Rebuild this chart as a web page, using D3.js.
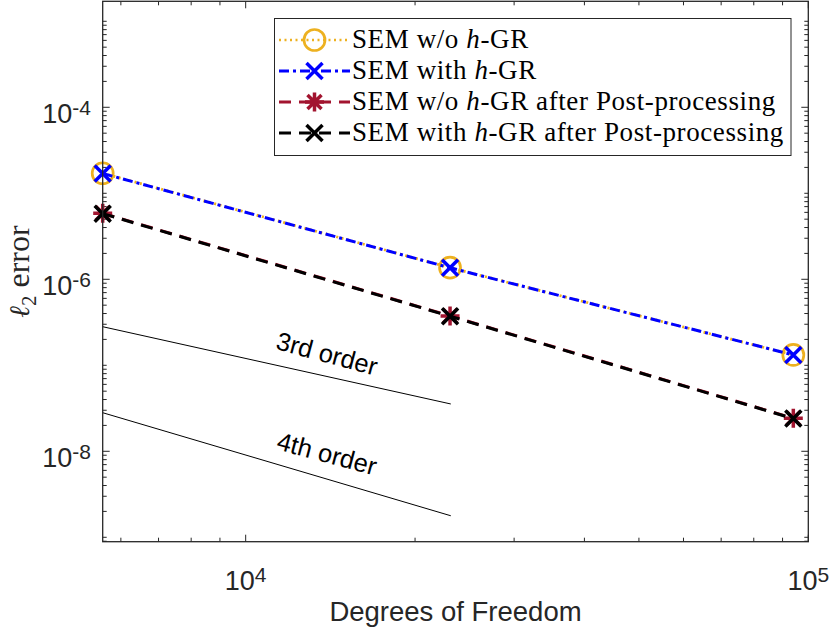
<!DOCTYPE html>
<html><head><meta charset="utf-8">
<script src="https://cdn.jsdelivr.net/npm/d3@7/dist/d3.min.js"></script>
<style>body{margin:0;background:#fff}</style></head>
<body>
<svg id="c" width="830" height="633"></svg>
<script>
// ---- data ----
const dof      = [5570, 23080, 94050];
const semNoGR  = [1.71e-5, 1.365e-6, 1.32e-7];
const semGR    = [1.70e-5, 1.36e-6, 1.32e-7];
const postNoGR = [5.85e-6, 3.75e-7, 2.42e-8];
const postGR   = [5.80e-6, 3.72e-7, 2.40e-8];
const refX     = [5570, 23150];
const ref3     = [2.81e-7, 3.55e-8];
const ref4     = [2.81e-8, 1.78e-9];
const refLabels = ["3rd order", "4th order"];
const xTicks = [1e4, 1e5];
const xTickExp = ["4", "5"];
const yTicks = [1e-8, 1e-6, 1e-4];
const yTickExp = ["-8", "-6", "-4"];
const legendLabels = [
  ["SEM w/o ", "h", "-GR"],
  ["SEM with ", "h", "-GR"],
  ["SEM w/o ", "h", "-GR after Post-processing"],
  ["SEM with ", "h", "-GR after Post-processing"]
];

const svg = d3.select("#c");
const L = 102.7, R = 808.3, T = 1.3, B = 541.7;
const x = d3.scaleLog().domain([5570, 1e5]).range([L, R]);
const y = d3.scaleLog().domain([8.887e-10, 1.708e-3]).range([B, T]);
const axisCol = "#262626";
const ORANGE = "#EDB120", BLUE = "#0000FF", RED = "#A2142F", BLACK = "#000000";

// ---- minor / major ticks ----
const xMinor = [];
for (let e = 3; e <= 4; e++) for (let m = 1; m <= 9; m++) { const v = m * Math.pow(10, e); if (v > 5570 && v < 1e5 && !xTicks.includes(v)) xMinor.push(v); }
const yMinor = [];
for (let e = -10; e <= -3; e++) for (let m = 1; m <= 9; m++) { const v = m * Math.pow(10, e); if (v > 8.887e-10 && v < 1.708e-3 && !yTicks.some(t => Math.abs(t - v) / v < 1e-6)) yMinor.push(v); }

const g = svg.append("g");
function xt(vals, len) {
  vals.forEach(v => {
    const px = x(v);
    g.append("line").attr("x1", px).attr("x2", px).attr("y1", B).attr("y2", B - len).attr("stroke", axisCol).attr("stroke-width", 1);
    g.append("line").attr("x1", px).attr("x2", px).attr("y1", T).attr("y2", T + len).attr("stroke", axisCol).attr("stroke-width", 1);
  });
}
function yt(vals, len) {
  vals.forEach(v => {
    const py = y(v);
    g.append("line").attr("y1", py).attr("y2", py).attr("x1", L).attr("x2", L + len).attr("stroke", axisCol).attr("stroke-width", 1);
    g.append("line").attr("y1", py).attr("y2", py).attr("x1", R).attr("x2", R - len).attr("stroke", axisCol).attr("stroke-width", 1);
  });
}
xt(xMinor, 4); xt(xTicks, 7); yt(yMinor, 4); yt(yTicks, 7);

// tick labels
const tickFont = "'Liberation Sans', Arial, Helvetica, sans-serif";
xTicks.forEach((v, i) => {
  const t = svg.append("text").attr("x", x(v)).attr("y", 589.5).attr("text-anchor", "middle")
    .attr("font-family", tickFont).attr("font-size", 27).attr("fill", axisCol);
  t.append("tspan").text("10");
  t.append("tspan").attr("font-size", 21).attr("dy", -8).text(xTickExp[i]);
});
yTicks.forEach((v, i) => {
  const t = svg.append("text").attr("x", 91).attr("y", y(v) + 15.5).attr("text-anchor", "end")
    .attr("font-family", tickFont).attr("font-size", 27).attr("fill", axisCol);
  t.append("tspan").text("10");
  t.append("tspan").attr("font-size", 21).attr("dy", -8).text(yTickExp[i]);
});

// axis labels
svg.append("text").attr("x", (L + R) / 2).attr("y", 621).attr("text-anchor", "middle")
  .attr("font-family", tickFont).attr("font-size", 27.5).attr("fill", axisCol).text("Degrees of Freedom");
const yl = svg.append("text").attr("transform", `translate(29,${(T + B) / 2}) rotate(-90)`).attr("text-anchor", "middle")
  .attr("font-family", "'Liberation Serif', 'Times New Roman', serif").attr("font-size", 32).attr("fill", axisCol);
yl.append("tspan").attr("font-family", "'DejaVu Serif', serif").attr("font-style", "italic").attr("font-size", 28).text("ℓ");
yl.append("tspan").attr("font-size", 21).attr("dy", 7).text("2");
yl.append("tspan").attr("dy", -7).text(" error");

// reference lines
const line = d3.line().x(d => x(d[0])).y(d => y(d[1]));
[ref3, ref4].forEach((r, i) => {
  svg.append("path").attr("d", line(refX.map((xv, j) => [xv, r[j]]))).attr("fill", "none").attr("stroke", "#000").attr("stroke-width", 1);
  const cx = 327, cy = [353.5, 453.5][i];
  svg.append("text").attr("transform", `translate(${cx},${cy}) rotate(15)`).attr("text-anchor", "middle")
    .attr("dominant-baseline", "central").attr("font-family", tickFont).attr("font-size", 25.5).attr("fill", "#000").text(refLabels[i]);
});

// markers
function circleM(sel, cx, cy, c) { sel.append("circle").attr("cx", cx).attr("cy", cy).attr("r", 10.5).attr("fill", "none").attr("stroke", c).attr("stroke-width", 2.7); }
function xM(sel, cx, cy, c) { const s = 8; sel.append("path").attr("d", `M${cx - s},${cy - s}L${cx + s},${cy + s}M${cx - s},${cy + s}L${cx + s},${cy - s}`).attr("stroke", c).attr("stroke-width", 3.5).attr("fill", "none"); }
function starM(sel, cx, cy, c) { const s = 9.5, d = 7; sel.append("path").attr("d", `M${cx},${cy - s}L${cx},${cy + s}M${cx - s},${cy}L${cx + s},${cy}M${cx - d},${cy - d}L${cx + d},${cy + d}M${cx - d},${cy + d}L${cx + d},${cy - d}`).attr("stroke", c).attr("stroke-width", 3.5).attr("fill", "none"); }

const series = [
  { vals: semNoGR, color: ORANGE, dash: "2,3.5", width: 2.7, marker: circleM },
  { vals: semGR, color: BLUE, dash: "10,4,3,4", width: 3, marker: xM },
  { vals: postNoGR, color: RED, dash: "12,8", width: 3, marker: starM },
  { vals: postGR, color: BLACK, dash: "12,8", width: 3, marker: xM }
];
series.forEach(s => {
  svg.append("path").attr("d", line(dof.map((d, i) => [d, s.vals[i]]))).attr("fill", "none")
    .attr("stroke", s.color).attr("stroke-width", s.width).attr("stroke-dasharray", s.dash);
  dof.forEach((d, i) => s.marker(svg, x(d), y(s.vals[i]), s.color));
});

// axes box
svg.append("rect").attr("x", L).attr("y", T).attr("width", R - L).attr("height", B - T).attr("fill", "none").attr("stroke", axisCol).attr("stroke-width", 1.3);

// legend
const lg = svg.append("g");
lg.append("rect").attr("x", 274.5).attr("y", 18.5).attr("width", 516.5).attr("height", 137).attr("fill", "#fff").attr("stroke", axisCol).attr("stroke-width", 1);
const rowY = [40, 71, 102, 133];
series.forEach((s, i) => {
  const ry = rowY[i];
  lg.append("line").attr("x1", 279).attr("x2", 350).attr("y1", ry).attr("y2", ry).attr("stroke", s.color).attr("stroke-width", s.width).attr("stroke-dasharray", s.dash);
  s.marker(lg, 314.5, ry, s.color);
  const t = lg.append("text").attr("x", 352).attr("y", ry + 8).attr("font-family", "'Liberation Serif', 'Times New Roman', serif")
    .attr("font-size", 27).attr("letter-spacing", 0.6).attr("fill", "#000");
  t.append("tspan").text(legendLabels[i][0]);
  t.append("tspan").attr("font-style", "italic").text(legendLabels[i][1]);
  t.append("tspan").text(legendLabels[i][2]);
});
</script>
</body></html>
